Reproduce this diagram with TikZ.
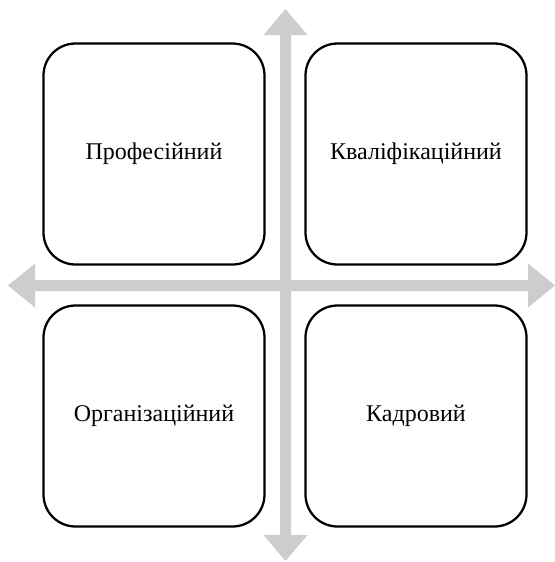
\documentclass[tikz,border=0pt]{standalone}
\usepackage{fontspec}
\setmainfont{Liberation Serif}
\definecolor{arrowgray}{RGB}{205,205,205}
\begin{document}
\begin{tikzpicture}[x=0.75pt,y=-0.75pt,
  quad/.style={draw=black,line width=1.7pt,rounded corners=24pt,fill=white,
    minimum width=221*0.75pt,minimum height=221*0.75pt,inner sep=0pt,
    font=\fontsize{18pt}{21pt}\selectfont},
  bigarrow/.style={fill=arrowgray,draw=none}]
\useasboundingbox (0,0) rectangle (555,562);
% arrows
\fill[arrowgray] (285.5,9) -- (307.5,35) -- (291,35) -- (291,535) -- (307.5,535)
  -- (285.5,561) -- (263.5,535) -- (280,535) -- (280,35) -- (263.5,35) -- cycle;
\fill[arrowgray] (8,285.5) -- (35,263.5) -- (35,280) -- (528,280) -- (528,263.5)
  -- (555,285.5) -- (528,307.5) -- (528,291) -- (35,291) -- (35,307.5) -- cycle;
% boxes
\node[quad] (prof) at (154,154) {Професійний};
\node[quad] (kval) at (416,154) {Кваліфікаційний};
\node[quad] (org)  at (154,416) {Організаційний};
\node[quad] (kadr) at (416,416) {Кадровий};
\end{tikzpicture}
\end{document}
